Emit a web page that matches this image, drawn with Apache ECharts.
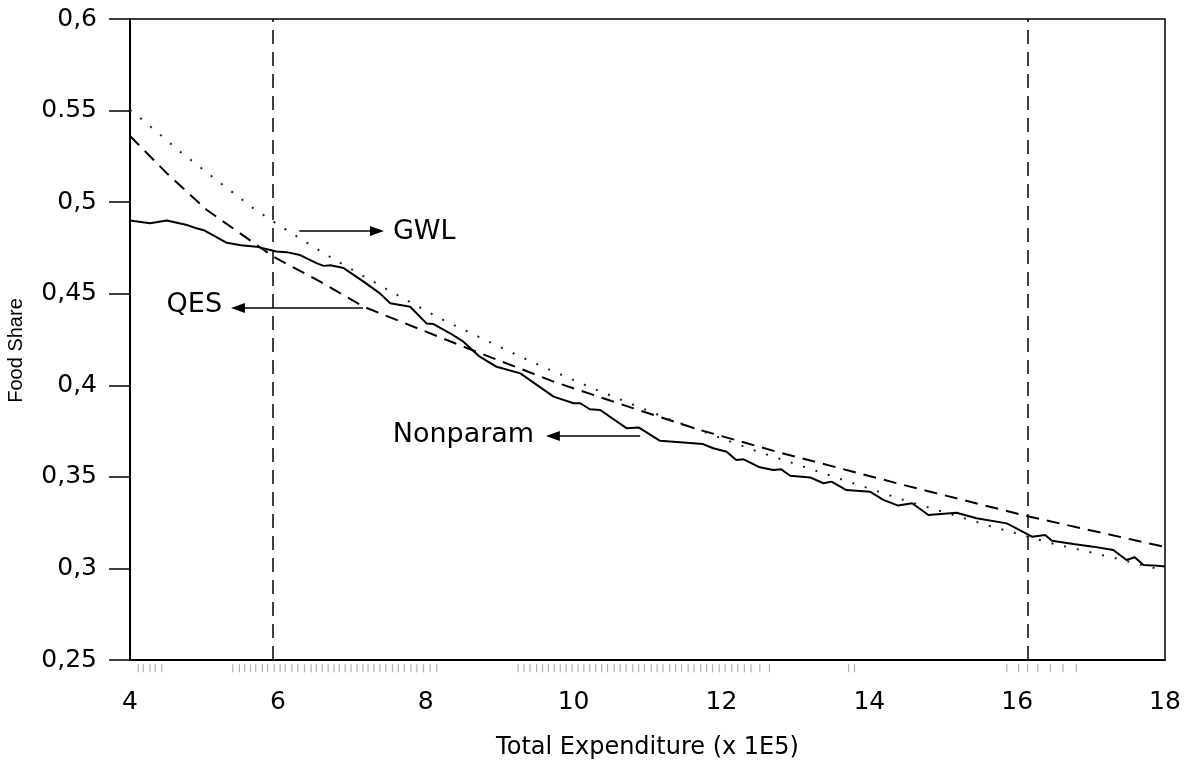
<!DOCTYPE html>
<html style="height: 100%">
<head>
<meta charset="utf-8">
<title>Food Share</title>
<script src="https://cdn.jsdelivr.net/npm/echarts@6/dist/echarts.min.js"></script>
</head>
<body style="height: 100%; margin: 0; background: #fff">
<div id="container" style="width: 1191px; height: 760px"></div>
<script type="text/javascript">
// values
var nonparamX = [4.00, 4.27, 4.50, 4.77, 4.90, 5.01, 5.31, 5.50, 5.71, 5.98, 6.12, 6.30, 6.53, 6.62, 6.71, 6.89,
	7.16, 7.38, 7.52, 7.79, 8.01, 8.10, 8.33, 8.51, 8.73, 8.96, 9.28, 9.73, 10.00, 10.09, 10.22, 10.36,
	10.72, 10.88, 11.17, 11.53, 11.75, 11.89, 12.07, 12.20, 12.30, 12.52, 12.70, 12.81, 12.93, 13.20,
	13.38, 13.49, 13.69, 14.01, 14.19, 14.39, 14.58, 14.80, 15.18, 15.45, 15.86, 15.99, 16.20, 16.38,
	16.47, 16.76, 17.03, 17.30, 17.48, 17.59, 17.71, 17.90, 18.00];
var nonparamY = [0.4900, 0.4885, 0.4900, 0.4875, 0.4857, 0.4845, 0.4778, 0.4765, 0.4757, 0.4730, 0.4727, 0.4711, 0.4666, 0.4652, 0.4655, 0.4640,
	0.4566, 0.4502, 0.4448, 0.4429, 0.4338, 0.4335, 0.4284, 0.4238, 0.4156, 0.4101, 0.4065, 0.3938, 0.3902, 0.3902, 0.3869, 0.3865,
	0.3765, 0.3770, 0.3697, 0.3686, 0.3679, 0.3656, 0.3637, 0.3592, 0.3596, 0.3552, 0.3537, 0.3541, 0.3506, 0.3497,
	0.3465, 0.3474, 0.3428, 0.3419, 0.3374, 0.3343, 0.3356, 0.3292, 0.3304, 0.3274, 0.3246, 0.3219, 0.3173, 0.3183,
	0.3151, 0.3133, 0.3119, 0.3101, 0.3046, 0.3061, 0.3019, 0.3015, 0.3010];

var qesX = [4.00, 4.50, 5.04, 5.94, 6.53, 7.16, 8.51, 9.73, 10.81, 11.71, 12.75, 13.78, 14.46, 16.13, 18.00];
var qesY = [0.5361, 0.5157, 0.4957, 0.4702, 0.4575, 0.4429, 0.4211, 0.4020, 0.3874, 0.3756, 0.3637, 0.3528, 0.3456, 0.3286, 0.3117];

var gwlX = [4.00, 4.20, 4.68, 5.17, 5.67, 6.01, 6.55, 6.89, 7.45, 8.19, 9.14, 9.50, 10.29, 11.26, 12.43, 13.45, 14.44, 14.84, 15.63, 16.47, 17.28, 18.00];
var gwlY = [0.5503, 0.5439, 0.5275, 0.5121, 0.4966, 0.4875, 0.4739, 0.4657, 0.4530, 0.4366, 0.4183, 0.4116, 0.3978, 0.3820, 0.3647, 0.3510, 0.3377, 0.3328, 0.3232, 0.3137, 0.3061, 0.2987];

// observation rug under the x axis
var rugX = [4.11, 4.18, 4.27, 4.34, 4.43,
	5.39, 5.48, 5.55, 5.63, 5.70, 5.79, 5.86, 5.95, 6.03, 6.10, 6.19, 6.27, 6.36, 6.45, 6.52, 6.60, 6.68, 6.76, 6.83, 6.91,
	6.99, 7.07, 7.15, 7.22, 7.30, 7.38, 7.46, 7.55, 7.63, 7.71, 7.80, 7.88, 7.97, 8.06, 8.15,
	9.25, 9.33, 9.41, 9.50, 9.58, 9.66, 9.74, 9.82, 9.90, 9.98, 10.06, 10.14, 10.22, 10.30, 10.38, 10.46, 10.55, 10.63,
	10.71, 10.80, 10.88, 10.96, 11.05, 11.13, 11.21, 11.30, 11.38, 11.46, 11.55, 11.63, 11.72, 11.80, 11.88, 11.97,
	12.05, 12.14, 12.22, 12.31, 12.40, 12.52, 12.65,
	13.72, 13.80,
	15.86, 16.02, 16.14, 16.28, 16.45, 16.62, 16.80];
var rugY = 0.2455;

var vLines = [5.93, 16.14];
var yTickLabels = ['0,25', '0,3', '0,35', '0,4', '0,45', '0,5', '0.55', '0,6'];

// annotation labels and their arrows (data units)
var noteText = ['GWL', 'QES', 'Nonparam'];
var noteX = [7.98, 4.87, 8.51];
var noteY = [0.4835, 0.4438, 0.3729];
var arrowFrom = [[6.29, 0.4842], [7.15, 0.4422], [10.90, 0.3723]];
var arrowTo = [[7.34, 0.4842], [5.46, 0.4422], [9.72, 0.3723]];

var FONT = "'DejaVu Sans', 'Liberation Sans', sans-serif";

function zip(xs, ys) {
	var out = [];
	for (var i = 0; i < xs.length; i++) {
		out.push([xs[i], ys[i]]);
	}
	return out;
}

var myChart = echarts.init(document.getElementById('container'));

var option = {
	animation : false,
	backgroundColor : '#fff',
	grid : {
		left : 130,
		right : 26,
		top : 19,
		bottom : 100,
		outerBoundsMode : 'none',
		show : true,
		borderColor : '#000',
		borderWidth : 1.5
	},
	xAxis : {
		type : 'value',
		min : 4,
		max : 18,
		interval : 2,
		name : 'Total Expenditure (x 1E5)',
		nameLocation : 'middle',
		nameGap : 76,
		nameTextStyle : { fontFamily : FONT, fontSize : 24, color : '#000' },
		axisLine : { lineStyle : { color : '#000', width : 2 } },
		axisTick : { show : false },
		splitLine : { show : false },
		axisLabel : { fontFamily : FONT, fontSize : 25, color : '#000', margin : 30 }
	},
	yAxis : {
		type : 'value',
		min : 0.25,
		max : 0.6,
		interval : 0.05,
		name : 'Food Share',
		nameLocation : 'middle',
		nameGap : 104,
		nameTextStyle : { fontFamily : "'Liberation Sans', Arial, sans-serif", fontSize : 20, color : '#000', padding : [0, 22, 0, 0] },
		axisLine : { show : true, lineStyle : { color : '#000', width : 2 } },
		axisTick : { show : true, inside : false, length : 21, lineStyle : { color : '#000', width : 1.5 } },
		splitLine : { show : false },
		axisLabel : {
			fontFamily : FONT,
			fontSize : 25,
			color : '#000',
			margin : 33,
			formatter : function(v) {
				return yTickLabels[Math.round((v - 0.25) / 0.05)];
			}
		}
	},
	series : [ {
		name : 'Nonparam',
		type : 'line',
		data : zip(nonparamX, nonparamY),
		showSymbol : false,
		lineStyle : { color : '#000', width : 2 },
		markLine : {
			silent : true,
			symbol : 'none',
			label : { show : false },
			lineStyle : { color : '#000', width : 1.5, type : [14, 8] },
			data : vLines.map(function(v) { return { xAxis : v }; })
		}
	}, {
		name : 'QES',
		type : 'line',
		data : zip(qesX, qesY),
		showSymbol : false,
		lineStyle : { color : '#000', width : 2, type : [13, 8] }
	}, {
		name : 'GWL',
		type : 'line',
		data : zip(gwlX, gwlY),
		showSymbol : false,
		lineStyle : { color : '#222', width : 2, type : [2, 11] }
	}, {
		name : 'rug',
		type : 'scatter',
		clip : false,
		silent : true,
		symbol : 'rect',
		symbolSize : [1.2, 8],
		itemStyle : { color : '#b0b0b0', opacity : 1 },
		data : rugX.map(function(v) { return [v, rugY]; })
	}, {
		name : 'notes',
		type : 'scatter',
		silent : true,
		symbolSize : 0,
		itemStyle : { opacity : 1 },
		data : zip(noteX, noteY).map(function(p, i) {
			return { value : p, name : noteText[i] };
		}),
		label : {
			show : true,
			position : [0, 0],
			align : 'center',
			verticalAlign : 'middle',
			formatter : '{b}',
			fontFamily : FONT,
			fontSize : 27,
			color : '#000',
			textBorderWidth : 0
		},
		markLine : {
			silent : true,
			symbol : [ 'none', 'triangle' ],
			symbolSize : [ 10, 14 ],
			label : { show : false },
			lineStyle : { color : '#000', width : 1.5, type : 'solid', opacity : 1 },
			data : arrowFrom.map(function(f, i) {
				return [ { coord : f }, { coord : arrowTo[i] } ];
			})
		}
	} ]
};

myChart.setOption(option);
</script>
</body>
</html>
